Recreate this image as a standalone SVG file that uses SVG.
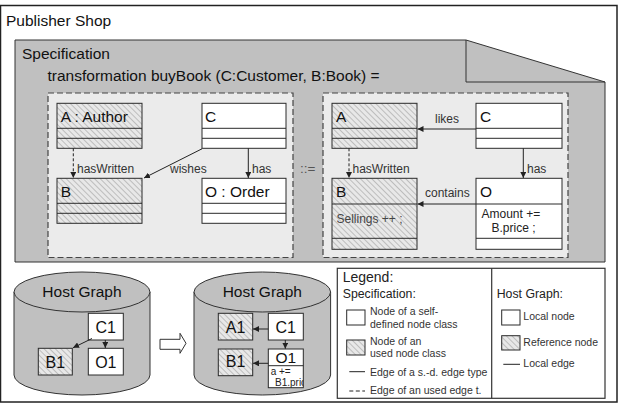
<svg xmlns="http://www.w3.org/2000/svg" width="623" height="406" viewBox="0 0 623 406">
<defs>
<pattern id="hatch" patternUnits="userSpaceOnUse" width="4" height="4" patternTransform="rotate(-45)">
<rect width="4" height="4" fill="#e8e8e8"/>
<line x1="0.5" y1="0" x2="0.5" y2="4" stroke="#b8b8b8" stroke-width="0.9"/>
</pattern>
<marker id="arr" markerWidth="7" markerHeight="6" refX="6" refY="3" orient="auto" markerUnits="userSpaceOnUse">
<path d="M0,0 L6,3 L0,6 Z" fill="#222"/>
</marker>
<clipPath id="o1clip"><rect x="268.3" y="365.7" width="35" height="22"/></clipPath>
</defs>
<style>
text{font-family:"Liberation Sans",Arial,sans-serif;fill:#111}
.big{font-size:15.5px}
.lbl{font-size:12px;fill:#333}
.hn{font-size:16px}
.leg{font-size:10.5px;fill:#333}
.legh{font-size:12.3px;fill:#222}
.node{stroke:#2a2a2a;stroke-width:1}
.w{fill:#fff}
.h{fill:url(#hatch)}
.edge{stroke:#222;stroke-width:1;fill:none}
.dash{stroke-dasharray:3,2}
.frame{fill:#ebebeb;stroke:#444;stroke-width:1.2;stroke-dasharray:6,3}
.cyl{fill:#c0c0c0;stroke:#333;stroke-width:1}
</style>
<rect x="0.5" y="5.5" width="616.5" height="396.5" fill="#fff" stroke="#222" stroke-width="1.5"/>
<text class="big" x="6" y="26">Publisher Shop</text>

<g id="specification">
<path d="M15,40 H466 L605,82 V262 H15 Z" fill="#c0c0c0" stroke="#333" stroke-width="1"/>
<path d="M466,40 V82 H605" fill="none" stroke="#333" stroke-width="1"/>
<text class="big" x="22" y="59">Specification</text>
<text class="big" x="47.5" y="81">transformation buyBook (C:Customer, B:Book) =</text>
<rect class="frame" x="48" y="93" width="245" height="164.5"/>
<rect class="frame" x="323" y="93" width="245" height="164.5"/>
<text x="300" y="173" style="font-size:13.5px;fill:#555">::=</text>
</g>

<g id="lhs-A">
<rect class="node h" x="57" y="103.3" width="85" height="45"/>
<path class="node" d="M57,128.3 H142 M57,138.3 H142"/>
<text class="big" x="60.7" y="121.5">A : Author</text>
</g>
<g id="lhs-C">
<rect class="node w" x="202" y="103.3" width="84" height="45"/>
<path class="node" d="M202,128.3 H286 M202,138.3 H286"/>
<text class="big" x="205" y="121.5">C</text>
</g>
<g id="lhs-B">
<rect class="node h" x="57" y="178.3" width="85" height="45"/>
<path class="node" d="M57,203.3 H142 M57,213.3 H142"/>
<text class="big" x="60.7" y="197.3">B</text>
</g>
<g id="lhs-O">
<rect class="node w" x="202" y="178.3" width="84" height="45"/>
<path class="node" d="M202,203.3 H286 M202,213.3 H286"/>
<text class="big" x="205" y="197.3">O : Order</text>
</g>

<g id="rhs-A">
<rect class="node h" x="332" y="103.3" width="85" height="45"/>
<path class="node" d="M332,128.3 H417 M332,138.3 H417"/>
<text class="big" x="336" y="121.5">A</text>
</g>
<g id="rhs-C">
<rect class="node w" x="476" y="103.3" width="86" height="45"/>
<path class="node" d="M476,128.3 H562 M476,138.3 H562"/>
<text class="big" x="480" y="121.5">C</text>
</g>
<g id="rhs-B">
<rect class="node h" x="332" y="178.3" width="85" height="71"/>
<path class="node" d="M332,204 H417 M332,238.3 H417"/>
<text class="big" x="336" y="197.3">B</text>
<text x="336.5" y="222.7" style="font-size:12px;fill:#444">Sellings ++ ;</text>
</g>
<g id="rhs-O">
<rect class="node w" x="476" y="178.3" width="86" height="71"/>
<path class="node" d="M476,204 H562 M476,238.3 H562"/>
<text class="big" x="480" y="197.3">O</text>
<text x="481.5" y="217.7" style="font-size:12px;fill:#222">Amount +=</text>
<text x="491.5" y="231.7" style="font-size:12px;fill:#222">B.price ;</text>
</g>

<g id="host1">
<path class="cyl" d="M14,292 L14,375 A68,20 0 0 0 150,375 L150,292"/>
<ellipse class="cyl" cx="82" cy="292" rx="68" ry="20"/>
<text class="big" x="82" y="296.7" text-anchor="middle">Host Graph</text>
</g>
<g id="host1-C1"><rect class="node w" x="88.3" y="313.3" width="35" height="26.7"/><text class="hn" x="105.8" y="333.3" text-anchor="middle">C1</text></g>
<g id="host1-O1"><rect class="node w" x="88.3" y="348.3" width="35" height="26.7"/><text class="hn" x="105.8" y="367.5" text-anchor="middle">O1</text></g>
<g id="host1-B1"><rect class="node h" x="38.3" y="348.3" width="34" height="26.7"/><text class="hn" x="55.3" y="367.5" text-anchor="middle">B1</text></g>

<g id="transition-arrow">
<polygon points="160,339.3 180,339.3 180,333.3 186,343.3 180,353.3 180,349.3 160,349.3" fill="#fff" stroke="#333" stroke-width="1"/>
</g>

<g id="host2">
<path class="cyl" d="M194,292 L194,375 A68.3,20 0 0 0 330.6,375 L330.6,292"/>
<ellipse class="cyl" cx="262.3" cy="292" rx="68.3" ry="20"/>
<text class="big" x="262.3" y="296.7" text-anchor="middle">Host Graph</text>
</g>
<g id="host2-A1"><rect class="node h" x="218.3" y="313.3" width="34.4" height="26.7"/><text class="hn" x="235.5" y="333.3" text-anchor="middle">A1</text></g>
<g id="host2-C1"><rect class="node w" x="268.3" y="313.3" width="35" height="26.7"/><text class="hn" x="285.8" y="333.3" text-anchor="middle">C1</text></g>
<g id="host2-B1"><rect class="node h" x="218.3" y="349" width="34.4" height="26.7"/><text class="hn" x="235.5" y="367" text-anchor="middle">B1</text></g>
<g id="host2-O1">
<rect class="node w" x="268.3" y="349" width="35" height="38.7"/>
<path class="node" d="M268.3,365.7 H303.3"/>
<text x="285.8" y="362.5" text-anchor="middle" style="font-size:15.5px">O1</text>
<g clip-path="url(#o1clip)">
<text x="270.7" y="375" style="font-size:10px;fill:#222">a +=</text>
<text x="275" y="386" style="font-size:10px;fill:#222">B1.price;</text>
</g>
</g>

<g id="connectors">
<line class="edge dash" x1="73.3" y1="148.3" x2="73.3" y2="178" marker-end="url(#arr)"/>
<text class="lbl" x="77" y="173">hasWritten</text>
<line class="edge" x1="202" y1="148.8" x2="144" y2="178" marker-end="url(#arr)"/>
<text class="lbl" x="170" y="173">wishes</text>
<line class="edge" x1="248.3" y1="148.3" x2="248.3" y2="178" marker-end="url(#arr)"/>
<text class="lbl" x="252" y="173">has</text>

<line class="edge" x1="476" y1="129" x2="417.5" y2="129" marker-end="url(#arr)"/>
<text class="lbl" x="435" y="123">likes</text>
<line class="edge dash" x1="349" y1="148.3" x2="349" y2="178" marker-end="url(#arr)"/>
<text class="lbl" x="352.5" y="173">hasWritten</text>
<line class="edge" x1="523.3" y1="148.3" x2="523.3" y2="178" marker-end="url(#arr)"/>
<text class="lbl" x="527" y="173">has</text>
<line class="edge" x1="476" y1="204" x2="417.5" y2="204" marker-end="url(#arr)"/>
<text class="lbl" x="425" y="197.3">contains</text>

<line class="edge" x1="92" y1="338.5" x2="73" y2="347.8" marker-end="url(#arr)"/>
<line class="edge" x1="105.3" y1="340" x2="105.3" y2="348" marker-end="url(#arr)"/>
<line class="edge" x1="268.3" y1="329" x2="253" y2="329" marker-end="url(#arr)"/>
<line class="edge" x1="285.3" y1="340" x2="285.3" y2="348.7" marker-end="url(#arr)"/>
<line class="edge" x1="268.3" y1="363.3" x2="253" y2="363.3" marker-end="url(#arr)"/>
</g>

<g id="legend">
<rect x="337.3" y="268.3" width="267.7" height="130" fill="#fff" stroke="#333" stroke-width="1.2"/>
<line x1="491.7" y1="268.3" x2="491.7" y2="398.3" stroke="#333" stroke-width="1.2"/>
<text x="342.7" y="282.3" style="font-size:14px;fill:#222">Legend:</text>
<text class="legh" x="342.7" y="298.3">Specification:</text>
<rect class="node w" x="346.7" y="310" width="18.3" height="15"/>
<text class="leg" x="370" y="315">Node of a self-</text>
<text class="leg" x="370" y="327.7">defined node class</text>
<rect class="node h" x="346.7" y="340" width="18.3" height="15"/>
<text class="leg" x="370" y="345">Node of an</text>
<text class="leg" x="370" y="357.3">used node class</text>
<line class="edge" x1="349.3" y1="371.7" x2="365" y2="371.7"/>
<text class="leg" x="370" y="375.7">Edge of a s.-d. edge type</text>
<line class="edge" x1="349.3" y1="391" x2="365" y2="391" stroke-dasharray="4,2.5"/>
<text class="leg" x="370" y="394.3">Edge of an used edge t.</text>
<text class="legh" x="496.7" y="298.3">Host Graph:</text>
<rect class="node w" x="501.7" y="310" width="18.3" height="15"/>
<text class="leg" x="523.3" y="320">Local node</text>
<rect class="node h" x="501.7" y="335.7" width="18.3" height="14.3"/>
<text class="leg" x="523.3" y="345.7">Reference node</text>
<line class="edge" x1="503.3" y1="364.3" x2="520" y2="364.3"/>
<text class="leg" x="523.3" y="366.7">Local edge</text>
</g>
</svg>
